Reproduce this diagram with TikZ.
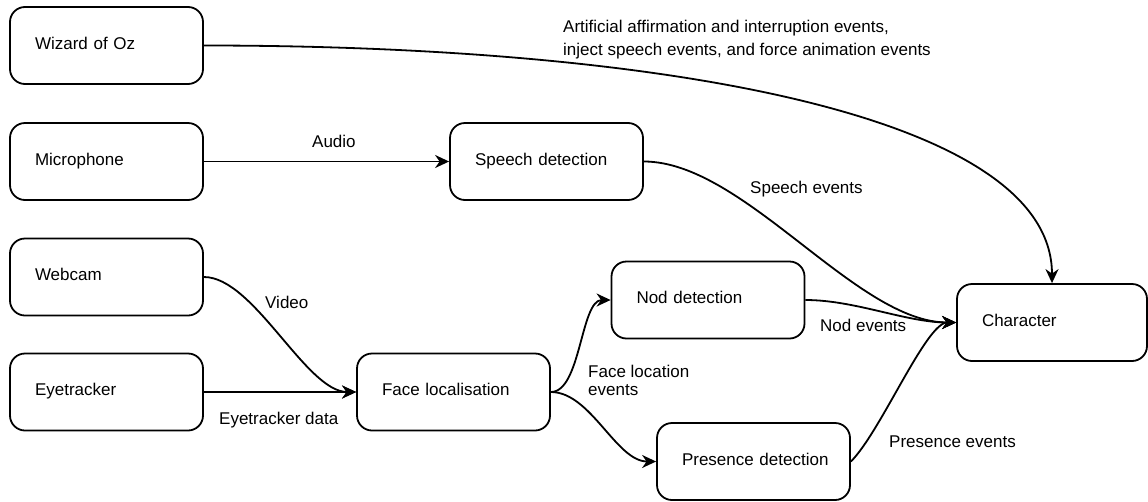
\documentclass[tikz,border=0pt]{standalone}
\usepackage{fontspec}
\setmainfont{Liberation Sans}
\usetikzlibrary{arrows.meta}

\begin{document}
\begin{tikzpicture}[x=1pt, y=-1pt,
  box/.style={draw, line width=1.8pt, rounded corners=15pt,
    minimum width=193pt, minimum height=77pt,
    inner xsep=0pt, inner ysep=0pt, text width=193pt, align=left,
    text height=12.5pt, text depth=5pt,
    execute at begin node={\hspace*{25pt}},
    font=\fontsize{17}{20}\selectfont},
  lbl/.style={inner sep=0pt, anchor=base west, font=\fontsize{17}{20}\selectfont},
  flow/.style={line width=1.8pt, -{Stealth[length=14pt, width=13pt, inset=4.5pt]}},
]
\useasboundingbox (0,0) rectangle (1148,501);

% components
\node[box] (woz)    at (106.5, 45.5)  {Wizard of Oz};
\node[box] (mic)    at (106.5, 161.5) {Microphone};
\node[box] (speech) at (546.5, 161.5) {Speech detection};
\node[box] (cam)    at (106.5, 277)   {Webcam};
\node[box] (eye)    at (106.5, 392)   {Eyetracker};
\node[box] (face)   at (453.5, 392)   {Face localisation};
\node[box] (nod)    at (708, 300)     {Nod detection};
\node[box] (pres)   at (753.5, 461.5) {Presence detection};
\node[box, minimum width=190pt, text width=190pt] (char) at (1052, 322.5) {Character};

% data flows
\draw[flow] (woz.east) .. controls +(450,0) and +(0,-170) .. (char.north);
\draw[flow] (mic.east) -- (speech.west);
\draw[flow] (speech.east) .. controls +(100,0) and +(-100,0) .. (char.west);
\draw[flow] (nod.east) .. controls +(50,0) and +(-50,0) .. (char.west);
\draw[flow] (pres.east) .. controls +(30,-30) and +(-30,0) .. (char.west);
\draw[flow] (face.east) .. controls +(30,0) and +(-30,0) .. (nod.west);
\draw[flow] (face.east) .. controls +(40,0) and +(-40,0) .. (pres.west);
\draw[flow] (cam.east) .. controls +(50,0) and +(-50,0) .. (face.west);
\draw[flow] (eye.east) -- (face.west);

% flow labels
\node[inner sep=0pt, anchor=north west, align=left, font=\fontsize{17}{23}\selectfont] (lwoz) at (563, 19.5)
  {Artificial affirmation and interruption events,\\inject speech events, and force animation events};
\node[lbl] (laudio)  at (312, 147) {Audio};
\node[lbl] (lspeech) at (750, 193) {Speech events};
\node[lbl] (lvideo)  at (265, 308) {Video};
\node[lbl] (leye)    at (219, 424) {Eyetracker data};
\node[lbl] (lnod)    at (820, 331) {Nod events};
\node[lbl] (lpres)   at (889, 447) {Presence events};
\node[inner sep=0pt, anchor=north west, align=left, font=\fontsize{17}{18}\selectfont] (lface) at (588, 364.6)
  {Face location\\events};
\end{tikzpicture}
\end{document}
